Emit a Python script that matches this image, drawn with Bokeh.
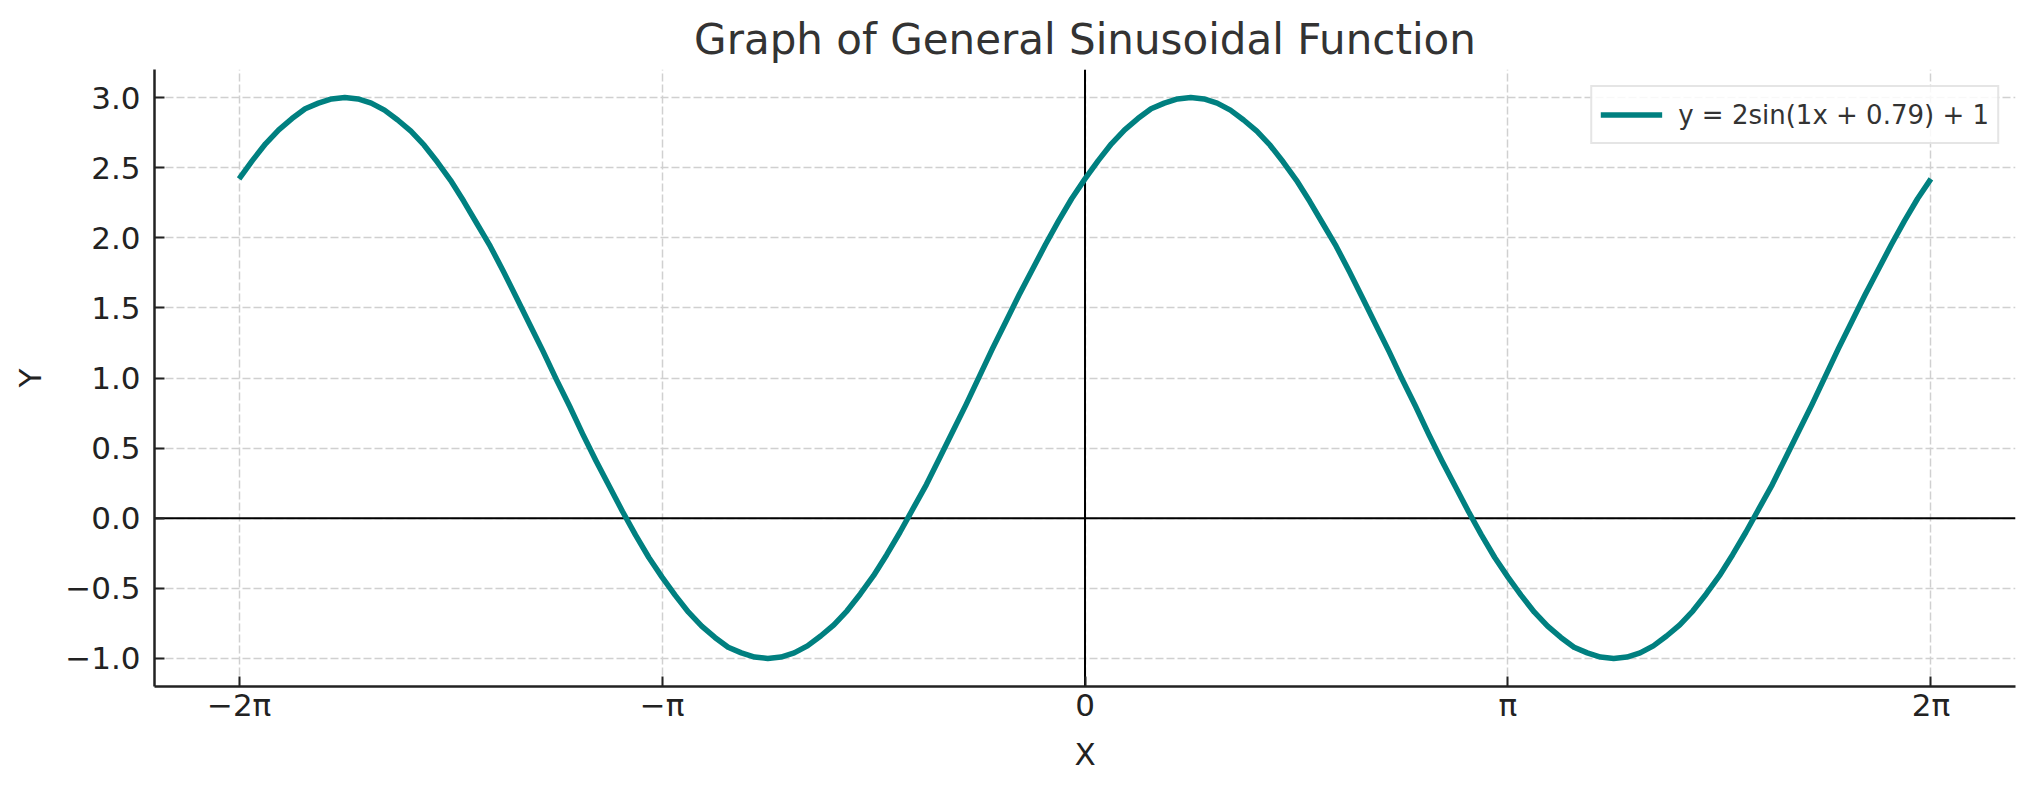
import numpy as np

from bokeh.plotting import figure
from bokeh.models import Span, FixedTicker, CustomJSTickFormatter
from bokeh.embed import file_html
from bokeh.resources import INLINE

# Curve, one point every pi/32 from -2pi to 2pi
x_steps = list(range(-64, 65))
y_values = [
    2.42, 2.55, 2.67, 2.77, 2.85, 2.92, 2.96, 2.99, 3.00, 2.99, 2.96, 2.91, 2.84, 2.76, 2.66, 2.54,
    2.41, 2.26, 2.10, 1.94, 1.76, 1.57, 1.38, 1.19, 0.99, 0.80, 0.60, 0.41, 0.23, 0.05, -0.12, -0.28,
    -0.42, -0.55, -0.67, -0.77, -0.85, -0.92, -0.96, -0.99, -1.00, -0.99, -0.96, -0.91, -0.84, -0.76, -0.66, -0.54,
    -0.41, -0.26, -0.10, 0.07, 0.24, 0.43, 0.62, 0.81, 1.01, 1.21, 1.40, 1.59, 1.77, 1.95, 2.12, 2.28,
    2.42, 2.55, 2.67, 2.77, 2.85, 2.92, 2.96, 2.99, 3.00, 2.99, 2.96, 2.91, 2.84, 2.76, 2.66, 2.54,
    2.41, 2.26, 2.10, 1.94, 1.76, 1.57, 1.38, 1.19, 0.99, 0.80, 0.60, 0.41, 0.23, 0.05, -0.12, -0.28,
    -0.42, -0.55, -0.67, -0.77, -0.85, -0.92, -0.96, -0.99, -1.00, -0.99, -0.96, -0.91, -0.84, -0.76, -0.66, -0.54,
    -0.41, -0.26, -0.10, 0.07, 0.24, 0.43, 0.62, 0.81, 1.01, 1.21, 1.40, 1.59, 1.77, 1.95, 2.12, 2.28,
    2.42,
]
curve_label = "y = 2sin(1x + 0.79) + 1"

x_tick_values = [-2 * np.pi, -np.pi, 0.0, np.pi, 2 * np.pi]
x_tick_labels = ["\u22122\u03c0", "\u2212\u03c0", "0", "\u03c0", "2\u03c0"]
y_tick_values = [-1.0, -0.5, 0.0, 0.5, 1.0, 1.5, 2.0, 2.5, 3.0]

x = [k * np.pi / 32 for k in x_steps]

FONT = "DejaVu Sans"
INK = "#222222"

p = figure(
    width=2019, height=777,
    x_range=(-2.2 * np.pi, 2.2 * np.pi), y_range=(-1.2, 3.2),
    title="Graph of General Sinusoidal Function",
    output_backend="svg", toolbar_location=None,
    min_border_left=154, min_border_right=4,
    min_border_top=69, min_border_bottom=91,
)
p.outline_line_color = None
p.background_fill_color = "white"

# title
p.title.text_font = FONT
p.title.text_font_size = "42px"
p.title.text_font_style = "normal"
p.title.text_color = "#333333"
p.title.align = "center"
p.title.standoff = 11

# ticks
p.xaxis.ticker = FixedTicker(ticks=x_tick_values)
p.xaxis.formatter = CustomJSTickFormatter(
    args=dict(vals=x_tick_values, labels=x_tick_labels),
    code="""
    let best = 0, d = Infinity;
    for (let i = 0; i < vals.length; i++) {
        const e = Math.abs(vals[i] - tick);
        if (e < d) { d = e; best = i; }
    }
    return labels[best];
""")
p.yaxis.ticker = FixedTicker(ticks=y_tick_values)
p.yaxis.formatter = CustomJSTickFormatter(code="return tick.toFixed(1).replace('-', '\\u2212');")

for ax in (p.xaxis, p.yaxis):
    ax.axis_line_color = INK
    ax.axis_line_width = 2.5
    ax.major_tick_in = 10
    ax.major_tick_out = 0
    ax.major_tick_line_color = INK
    ax.major_tick_line_width = 2
    ax.minor_tick_line_color = None
    ax.major_label_text_font = FONT
    ax.major_label_text_font_size = "31px"
    ax.major_label_text_color = INK
    ax.axis_label_text_font = FONT
    ax.axis_label_text_font_size = "31px"
    ax.axis_label_text_font_style = "normal"
    ax.axis_label_text_color = INK

p.xaxis.axis_label = "X"
p.yaxis.axis_label = "Y"
p.xaxis.major_label_standoff = 0
p.xaxis.axis_label_standoff = 10
p.yaxis.major_label_standoff = 14
p.yaxis.axis_label_standoff = 14

# grid
p.grid.grid_line_color = "#d0d0d0"
p.grid.grid_line_dash = "8 3"
p.grid.grid_line_width = 1.5

# zero lines
p.add_layout(Span(location=0, dimension="width", line_color="black", line_width=2, level="underlay"))
p.add_layout(Span(location=0, dimension="height", line_color="black", line_width=2, level="underlay"))

p.line(x, y_values, line_color="#008080", line_width=5.5, line_join="round",
       legend_label=curve_label)

p.legend.location = "top_right"
p.legend.margin = 16
p.legend.padding = 8
p.legend.spacing = 0
p.legend.glyph_width = 62
p.legend.glyph_height = 39
p.legend.label_standoff = 16
p.legend.label_text_font = FONT
p.legend.label_text_font_size = "26px"
p.legend.label_text_color = "#333333"
p.legend.border_line_color = "#cccccc"
p.legend.border_line_width = 2
p.legend.background_fill_alpha = 0.85

open("out.html", "w").write(file_html(p, INLINE))
